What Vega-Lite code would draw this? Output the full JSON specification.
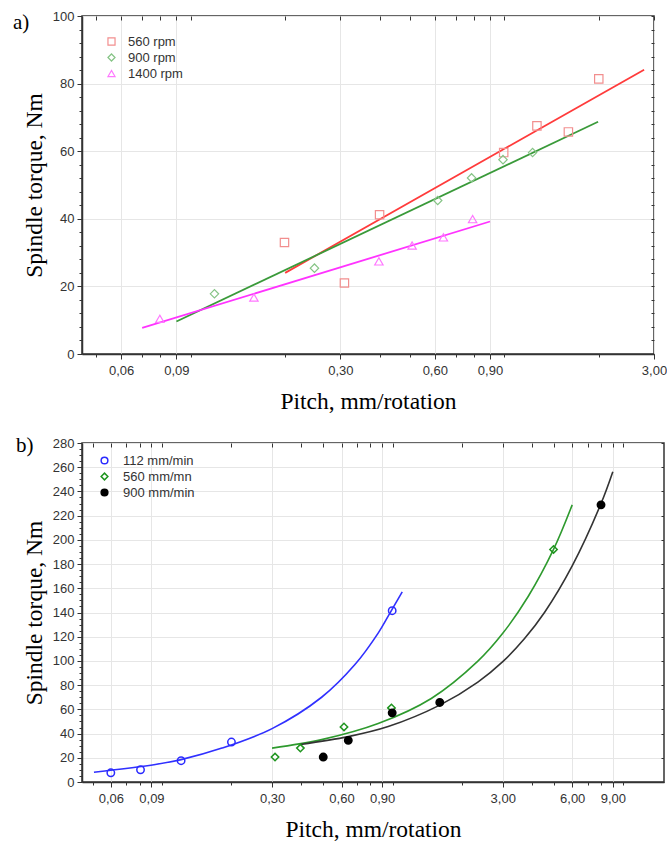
{
  "$schema": "https://vega.github.io/schema/vega-lite/v6.json",
  "background": "white",
  "padding": {"left": 12, "top": 9, "right": 2, "bottom": 0},
  "spacing": 20,
  "config": {
    "view": {"stroke": "#333", "strokeWidth": 1.5},
    "axis": {
      "labelFont": "Liberation Sans", "labelFontSize": 13, "labelColor": "#333",
      "titleFont": "Liberation Serif", "titleFontSize": 23.5, "titleFontWeight": "normal", "titleColor": "#000",
      "domainColor": "#333", "domainWidth": 1.5, "tickColor": "#333",
      "gridColor": "#e6e6e6", "gridWidth": 1, "labelFlush": false, "labelOverlap": false
    },
    "legend": {"labelFont": "Liberation Sans", "labelFontSize": 13, "labelColor": "#333"}
  },
  "resolve": {"scale": {"x": "independent", "y": "independent", "color": "independent", "shape": "independent", "fill": "independent"}, "legend": {"color": "independent", "shape": "independent", "fill": "independent"}},
  "datasets": {
    "a_points": [
      {"series": "560 rpm", "pitch": 0.199, "torque": 33.0},
      {"series": "560 rpm", "pitch": 0.309, "torque": 21.0},
      {"series": "560 rpm", "pitch": 0.400, "torque": 41.2},
      {"series": "560 rpm", "pitch": 0.995, "torque": 59.6},
      {"series": "560 rpm", "pitch": 1.27, "torque": 67.5},
      {"series": "560 rpm", "pitch": 1.60, "torque": 65.7},
      {"series": "560 rpm", "pitch": 2.00, "torque": 81.4},
      {"series": "900 rpm", "pitch": 0.119, "torque": 17.8},
      {"series": "900 rpm", "pitch": 0.248, "torque": 25.4},
      {"series": "900 rpm", "pitch": 0.613, "torque": 45.4},
      {"series": "900 rpm", "pitch": 0.786, "torque": 52.1},
      {"series": "900 rpm", "pitch": 0.99, "torque": 57.5},
      {"series": "900 rpm", "pitch": 1.23, "torque": 59.6},
      {"series": "1400 rpm", "pitch": 0.0797, "torque": 10.4},
      {"series": "1400 rpm", "pitch": 0.159, "torque": 16.7},
      {"series": "1400 rpm", "pitch": 0.398, "torque": 27.4},
      {"series": "1400 rpm", "pitch": 0.508, "torque": 32.1},
      {"series": "1400 rpm", "pitch": 0.639, "torque": 34.5},
      {"series": "1400 rpm", "pitch": 0.792, "torque": 39.9}
    ],
    "a_fit": [
      {"series": "560 rpm", "pitch": 0.200, "torque": 24.0},
      {"series": "560 rpm", "pitch": 1.0, "torque": 60.7},
      {"series": "560 rpm", "pitch": 2.79, "torque": 84.1},
      {"series": "900 rpm", "pitch": 0.09, "torque": 9.6},
      {"series": "900 rpm", "pitch": 1.99, "torque": 68.7},
      {"series": "1400 rpm", "pitch": 0.070, "torque": 7.7},
      {"series": "1400 rpm", "pitch": 0.9, "torque": 39.2}
    ],
    "b_points": [
      {"series": "112 mm/min", "pitch": 0.06, "torque": 7.6},
      {"series": "112 mm/min", "pitch": 0.0807, "torque": 10.1},
      {"series": "112 mm/min", "pitch": 0.121, "torque": 17.6},
      {"series": "112 mm/min", "pitch": 0.20, "torque": 33.0},
      {"series": "112 mm/min", "pitch": 0.995, "torque": 141.5},
      {"series": "560 mm/mn", "pitch": 0.309, "torque": 20.6},
      {"series": "560 mm/mn", "pitch": 0.398, "torque": 28.0},
      {"series": "560 mm/mn", "pitch": 0.615, "torque": 45.5},
      {"series": "560 mm/mn", "pitch": 0.988, "torque": 61.2},
      {"series": "560 mm/mn", "pitch": 4.98, "torque": 192.1},
      {"series": "900 mm/min", "pitch": 0.50, "torque": 20.6},
      {"series": "900 mm/min", "pitch": 0.642, "torque": 34.4},
      {"series": "900 mm/min", "pitch": 0.995, "torque": 57.1},
      {"series": "900 mm/min", "pitch": 1.60, "torque": 65.7},
      {"series": "900 mm/min", "pitch": 8.0, "torque": 228.9}
    ],
    "b_fit": [
      {"series": "112 mm/min", "pitch": 0.0507, "torque": 8.1},
      {"series": "112 mm/min", "pitch": 0.0936, "torque": 14.5},
      {"series": "112 mm/min", "pitch": 0.121, "torque": 18.5},
      {"series": "112 mm/min", "pitch": 0.182, "torque": 28.0},
      {"series": "112 mm/min", "pitch": 0.30, "torque": 44.1},
      {"series": "112 mm/min", "pitch": 0.492, "torque": 70.0},
      {"series": "112 mm/min", "pitch": 0.686, "torque": 97.0},
      {"series": "112 mm/min", "pitch": 0.865, "torque": 123.0},
      {"series": "112 mm/min", "pitch": 0.956, "torque": 137.0},
      {"series": "112 mm/min", "pitch": 1.10, "torque": 157.0},
      {"series": "560 mm/mn", "pitch": 0.30, "torque": 28.0},
      {"series": "560 mm/mn", "pitch": 0.492, "torque": 35.0},
      {"series": "560 mm/mn", "pitch": 0.865, "torque": 48.3},
      {"series": "560 mm/mn", "pitch": 1.47, "torque": 69.0},
      {"series": "560 mm/mn", "pitch": 2.34, "torque": 99.8},
      {"series": "560 mm/mn", "pitch": 3.0, "torque": 122.8},
      {"series": "560 mm/mn", "pitch": 3.86, "torque": 153.0},
      {"series": "560 mm/mn", "pitch": 4.98, "torque": 192.1},
      {"series": "560 mm/mn", "pitch": 6.0, "torque": 228.9},
      {"series": "900 mm/min", "pitch": 0.398, "torque": 31.0},
      {"series": "900 mm/min", "pitch": 0.642, "torque": 37.5},
      {"series": "900 mm/min", "pitch": 0.956, "torque": 45.8},
      {"series": "900 mm/min", "pitch": 1.60, "torque": 63.5},
      {"series": "900 mm/min", "pitch": 2.34, "torque": 82.5},
      {"series": "900 mm/min", "pitch": 3.0, "torque": 99.4},
      {"series": "900 mm/min", "pitch": 3.73, "torque": 118.5},
      {"series": "900 mm/min", "pitch": 4.55, "torque": 140.0},
      {"series": "900 mm/min", "pitch": 6.0, "torque": 178.5},
      {"series": "900 mm/min", "pitch": 8.0, "torque": 230.0},
      {"series": "900 mm/min", "pitch": 9.0, "torque": 256.3}
    ]
  },
  "vconcat": [
    {
      "width": 572,
      "height": 338,
      "title": {"text": "a)", "anchor": "start", "frame": "group", "orient": "top", "offset": 0, "dy": 40, "dx": -69, "baseline": "alphabetic", "font": "Liberation Serif", "fontSize": 21, "fontWeight": "normal", "color": "#000"},
      "layer": [
        {
          "data": {"name": "a_fit"},
          "mark": {"type": "line", "strokeWidth": 1.8, "clip": true},
          "encoding": {
            "x": {"field": "pitch", "type": "quantitative", "scale": {"type": "log", "domain": [0.045, 3], "nice": false},
              "axis": {"orient": "top", "values": [0.05, 0.06, 0.07, 0.08, 0.09, 0.1, 0.2, 0.3, 0.4, 0.5, 0.6, 0.7, 0.8, 0.9, 1, 2, 3], "labels": false, "title": null, "grid": false, "domain": false, "tickSize": -4}},
            "y": {"field": "torque", "type": "quantitative", "scale": {"domain": [0, 100], "nice": false},
              "axis": {"orient": "right", "values": [0, 4, 8, 12, 16, 20, 24, 28, 32, 36, 40, 44, 48, 52, 56, 60, 64, 68, 72, 76, 80, 84, 88, 92, 96, 100], "labels": false, "title": null, "grid": false, "domain": false, "tickSize": -3}},
            "color": {"field": "series", "type": "nominal", "sort": ["560 rpm", "900 rpm", "1400 rpm"], "scale": {"domain": ["560 rpm", "900 rpm", "1400 rpm"], "range": ["#ff3b3b", "#3a9a3a", "#ff33ff"]}, "legend": null},
            "detail": {"field": "series"}
          }
        },
        {
          "data": {"name": "a_points"},
          "mark": {"type": "point", "filled": false, "strokeWidth": 1.2, "size": 70, "opacity": 1},
          "encoding": {
            "x": {"field": "pitch", "type": "quantitative", "scale": {"type": "log", "domain": [0.045, 3], "nice": false},
              "axis": {"orient": "bottom", "values": [0.06, 0.09, 0.3, 0.6, 0.9, 3], "labelExpr": "replace(format(datum.value, '.2f'), '.', ',')", "title": "Pitch, mm/rotation", "tickSize": 5, "labelPadding": 5, "titlePadding": 12, "grid": true}},
            "y": {"field": "torque", "type": "quantitative", "scale": {"domain": [0, 100], "nice": false},
              "axis": {"orient": "left", "values": [0, 20, 40, 60, 80, 100], "title": "Spindle torque, Nm", "tickSize": 5, "labelPadding": 3, "titlePadding": 6, "grid": true}},
            "color": {"field": "series", "type": "nominal", "title": null, "sort": ["560 rpm", "900 rpm", "1400 rpm"], "scale": {"domain": ["560 rpm", "900 rpm", "1400 rpm"], "range": ["#f28e8e", "#86c486", "#ff77ff"]},
              "legend": {"orient": "none", "legendX": 23, "legendY": 19, "symbolSize": 50, "symbolStrokeWidth": 1.2, "rowPadding": 2, "labelOffset": 10, "padding": 0}},
            "shape": {"field": "series", "type": "nominal", "title": null, "sort": ["560 rpm", "900 rpm", "1400 rpm"], "scale": {"domain": ["560 rpm", "900 rpm", "1400 rpm"], "range": ["square", "diamond", "triangle-up"]},
              "legend": {"orient": "none", "legendX": 23, "legendY": 19, "symbolSize": 50, "symbolStrokeWidth": 1.2, "rowPadding": 2, "labelOffset": 10, "padding": 0}}
          }
        },
        {
          "data": {"name": "a_points"},
          "mark": {"type": "point", "opacity": 0},
          "encoding": {
            "x": {"field": "pitch", "type": "quantitative", "scale": {"type": "log", "domain": [0.045, 3], "nice": false},
              "axis": {"orient": "bottom", "values": [0.05, 0.07, 0.08, 0.1, 0.2, 0.4, 0.5, 0.7, 0.8, 1, 2], "labels": false, "title": null, "grid": false, "domain": false, "tickSize": 3}},
            "y": {"field": "torque", "type": "quantitative", "scale": {"domain": [0, 100], "nice": false},
              "axis": {"orient": "left", "values": [4, 8, 12, 16, 24, 28, 32, 36, 44, 48, 52, 56, 64, 68, 72, 76, 84, 88, 92, 96], "labels": false, "title": null, "grid": false, "domain": false, "tickSize": 3}}
          }
        }
      ],
      "resolve": {"axis": {"x": "independent", "y": "independent"}, "scale": {"color": "independent", "shape": "independent", "fill": "independent"}}
    },
    {
      "width": 582,
      "height": 339,
      "title": {"text": "b)", "anchor": "start", "frame": "group", "orient": "top", "offset": 0, "dy": 36, "dx": -66, "baseline": "alphabetic", "font": "Liberation Serif", "fontSize": 21, "fontWeight": "normal", "color": "#000"},
      "layer": [
        {
          "data": {"name": "b_fit"},
          "mark": {"type": "line", "strokeWidth": 1.6, "clip": true, "interpolate": "catmull-rom"},
          "encoding": {
            "x": {"field": "pitch", "type": "quantitative", "scale": {"type": "log", "domain": [0.045, 15], "nice": false},
              "axis": {"orient": "top", "values": [0.05, 0.06, 0.07, 0.08, 0.09, 0.1, 0.2, 0.3, 0.4, 0.5, 0.6, 0.7, 0.8, 0.9, 1, 2, 3, 4, 5, 6, 7, 8, 9, 10], "labels": false, "title": null, "grid": false, "domain": false, "tickSize": -4}},
            "y": {"field": "torque", "type": "quantitative", "scale": {"domain": [0, 280], "nice": false},
              "axis": {"orient": "right", "values": [0, 20, 40, 60, 80, 100, 120, 140, 160, 180, 200, 220, 240, 260, 280], "labels": false, "title": null, "grid": false, "domain": false, "tickSize": -3}},
            "color": {"field": "series", "type": "nominal", "sort": ["112 mm/min", "560 mm/mn", "900 mm/min"], "scale": {"domain": ["112 mm/min", "560 mm/mn", "900 mm/min"], "range": ["#3030ff", "#2e9a2e", "#333333"]}, "legend": null},
            "detail": {"field": "series"}
          }
        },
        {
          "data": {"name": "b_points"},
          "mark": {"type": "point", "filled": false, "strokeWidth": 1.5, "size": 55, "opacity": 1},
          "encoding": {
            "x": {"field": "pitch", "type": "quantitative", "scale": {"type": "log", "domain": [0.045, 15], "nice": false},
              "axis": {"orient": "bottom", "values": [0.06, 0.09, 0.3, 0.6, 0.9, 3, 6, 9], "labelExpr": "replace(format(datum.value, '.2f'), '.', ',')", "title": "Pitch, mm/rotation", "tickSize": 5, "labelPadding": 5, "titlePadding": 12, "grid": true}},
            "y": {"field": "torque", "type": "quantitative", "scale": {"domain": [0, 280], "nice": false},
              "axis": {"orient": "left", "values": [0, 20, 40, 60, 80, 100, 120, 140, 160, 180, 200, 220, 240, 260, 280], "title": "Spindle torque, Nm", "tickSize": 5, "labelPadding": 3, "titlePadding": 6, "grid": true}},
            "color": {"field": "series", "type": "nominal", "title": null, "sort": ["112 mm/min", "560 mm/mn", "900 mm/min"], "scale": {"domain": ["112 mm/min", "560 mm/mn", "900 mm/min"], "range": ["#2b2bff", "#1f951f", "#000000"]},
              "legend": {"orient": "none", "legendX": 16, "legendY": 11, "symbolSize": 45, "symbolStrokeWidth": 1.5, "rowPadding": 2, "labelOffset": 12, "padding": 0}},
            "fill": {"field": "series", "type": "nominal", "title": null, "sort": ["112 mm/min", "560 mm/mn", "900 mm/min"], "scale": {"domain": ["112 mm/min", "560 mm/mn", "900 mm/min"], "range": ["transparent", "transparent", "#000000"]},
              "legend": {"orient": "none", "legendX": 16, "legendY": 11, "symbolSize": 45, "symbolStrokeWidth": 1.5, "rowPadding": 2, "labelOffset": 12, "padding": 0}},
            "shape": {"field": "series", "type": "nominal", "title": null, "sort": ["112 mm/min", "560 mm/mn", "900 mm/min"], "scale": {"domain": ["112 mm/min", "560 mm/mn", "900 mm/min"], "range": ["circle", "diamond", "circle"]},
              "legend": {"orient": "none", "legendX": 16, "legendY": 11, "symbolSize": 45, "symbolStrokeWidth": 1.5, "rowPadding": 2, "labelOffset": 12, "padding": 0}}
          }
        },
        {
          "data": {"name": "b_points"},
          "mark": {"type": "point", "opacity": 0},
          "encoding": {
            "x": {"field": "pitch", "type": "quantitative", "scale": {"type": "log", "domain": [0.045, 15], "nice": false},
              "axis": {"orient": "bottom", "values": [0.05, 0.07, 0.08, 0.1, 0.2, 0.4, 0.5, 0.7, 0.8, 1, 2, 4, 5, 7, 8, 10], "labels": false, "title": null, "grid": false, "domain": false, "tickSize": 3}},
            "y": {"field": "torque", "type": "quantitative", "scale": {"domain": [0, 280], "nice": false},
              "axis": {"orient": "left", "values": [5, 10, 15, 25, 30, 35, 45, 50, 55, 65, 70, 75, 85, 90, 95, 105, 110, 115, 125, 130, 135, 145, 150, 155, 165, 170, 175, 185, 190, 195, 205, 210, 215, 225, 230, 235, 245, 250, 255, 265, 270, 275], "labels": false, "title": null, "grid": false, "domain": false, "tickSize": 3}}
          }
        }
      ],
      "resolve": {"axis": {"x": "independent", "y": "independent"}, "scale": {"color": "independent", "shape": "independent", "fill": "independent"}}
    }
  ]
}
